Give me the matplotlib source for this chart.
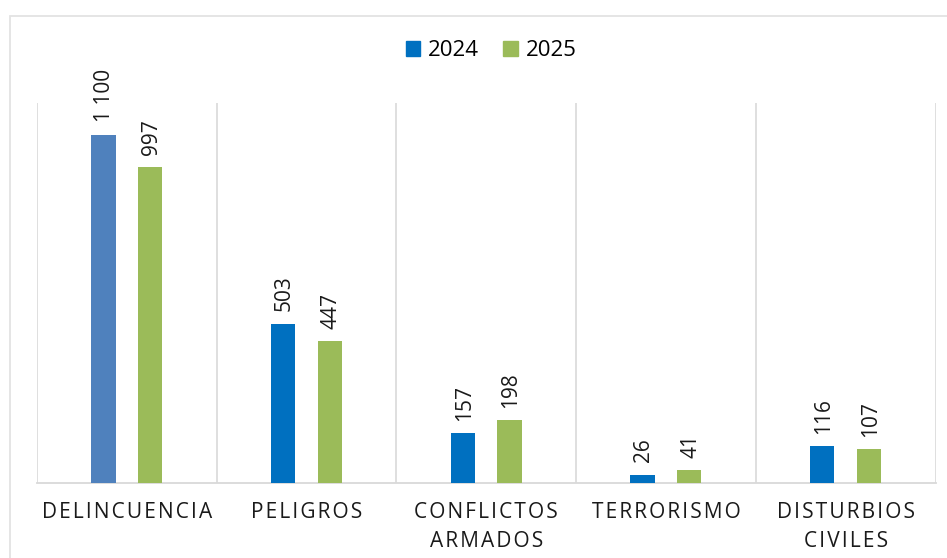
import matplotlib.pyplot as plt
import numpy as np
from matplotlib.patches import Rectangle, Patch

plt.rcParams["font.family"] = ["Open Sans", "DejaVu Sans"]

# Datos
categorias = ["DELINCUENCIA", "PELIGROS", "CONFLICTOS\nARMADOS", "TERRORISMO", "DISTURBIOS\nCIVILES"]
valores_2024 = [1100, 503, 157, 26, 116]
valores_2025 = [997, 447, 198, 41, 107]
etiquetas_2024 = ["1 100", "503", "157", "26", "116"]
etiquetas_2025 = ["997", "447", "198", "41", "107"]

azul = "#0070C0"
azul_claro = "#4F81BD"
verde = "#9BBB59"
gris = "#D9D9D9"


def espaciar(texto):
    # Espaciado entre letras
    return "\n".join("\u200a".join(linea) for linea in texto.split("\n"))


fig = plt.figure(figsize=(9.47, 5.58), dpi=100)
ax = fig.add_axes([37 / 947, 75 / 558, 898.5 / 947, 380 / 558])

# Borde exterior del gráfico
fig.patches.append(
    Rectangle((10 / 947, -0.1), 1.2, 1.1 - 16 / 558, transform=fig.transFigure,
              fill=False, edgecolor="#E3E3E3", linewidth=1.3)
)

x = np.arange(len(categorias))
ancho = 0.135
desp = 0.13

colores_2024 = [azul_claro] + [azul] * (len(categorias) - 1)
b1 = ax.bar(x - desp, valores_2024, ancho, color=colores_2024, zorder=3)
b2 = ax.bar(x + desp, valores_2025, ancho, color=verde, zorder=3)

for barras, etiquetas in [(b1, etiquetas_2024), (b2, etiquetas_2025)]:
    for barra, etq in zip(barras, etiquetas):
        ax.annotate(etq, (barra.get_x() + barra.get_width() / 2, barra.get_height()),
                    xytext=(1, 9), textcoords="offset points", rotation=90,
                    ha="center", va="bottom", fontsize=15, color="#1a1a1a")

# Separadores verticales entre categorías
for b in np.arange(-0.5, len(categorias), 1.0):
    ax.axvline(b, color=gris, linewidth=1.2, zorder=1)

ax.set_xlim(-0.5, len(categorias) - 0.5)
ax.set_ylim(0, 1200)
ax.set_xticks(x)
ax.set_xticklabels([espaciar(c) for c in categorias], fontsize=15, color="#1a1a1a",
                   linespacing=1.45)
ax.tick_params(axis="x", length=0, pad=14)
ax.set_yticks([])
for lado in ["top", "left", "right"]:
    ax.spines[lado].set_visible(False)
ax.spines["bottom"].set_color(gris)
ax.spines["bottom"].set_linewidth(1.3)

handles = [Patch(color=azul, label="2024"), Patch(color=verde, label="2025")]
fig.legend(handles=handles, loc="center", bbox_to_anchor=(491 / 947, 1 - 51 / 558), ncol=2,
           frameon=False, fontsize=16, handlelength=0.65, handleheight=0.65,
           handletextpad=0.35, columnspacing=1.1)

plt.savefig("out.png", dpi=100)
